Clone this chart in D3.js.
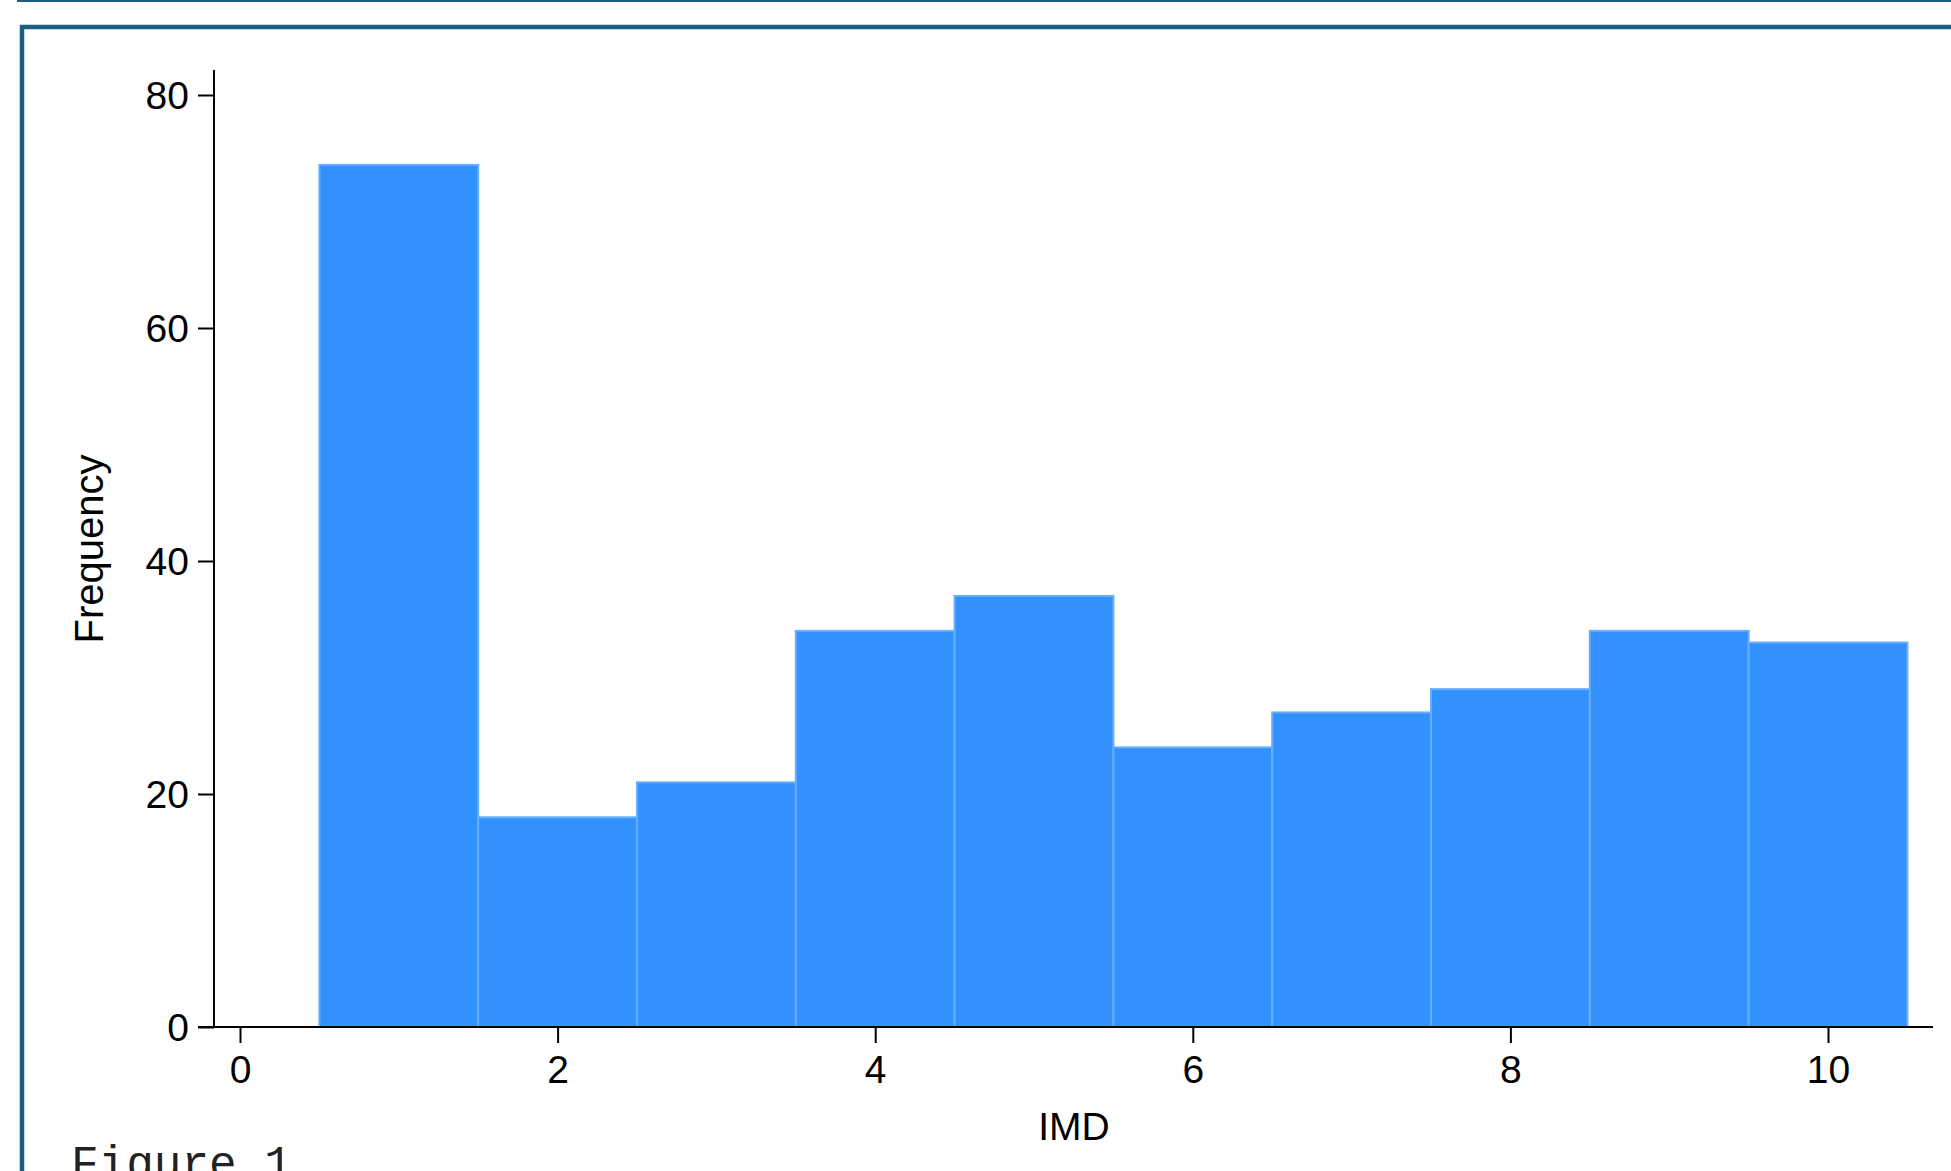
<!DOCTYPE html>
<html><head><meta charset="utf-8">
<script src="https://cdn.jsdelivr.net/npm/d3@7"></script>
<style>html,body{margin:0;padding:0;background:#fff;overflow:hidden}</style>
</head><body>
<script>
const binCenters = [1,2,3,4,5,6,7,8,9,10];
const frequencies = [74,18,21,34,37,24,27,29,34,33];
const xTicks = [0,2,4,6,8,10];
const yTicks = [0,20,40,60,80];
const xLabel = "IMD";
const yLabel = "Frequency";
const caption = "Figure 1";

const W = 1951, H = 1171;
const svg = d3.select("body").append("svg").attr("width", W).attr("height", H);
const frameColor = "#1b5e82";
svg.append("rect").attr("x",17).attr("y",0).attr("width",W).attr("height",2).attr("fill",frameColor);
svg.append("rect").attr("x",22).attr("y",27).attr("width",W+20).attr("height",H+20)
  .attr("fill","none").attr("stroke",frameColor).attr("stroke-width",4.5);

const x = d3.scaleLinear().domain([0,10]).range([240,1828]);
const y = d3.scaleLinear().domain([0,80]).range([1027,95]);
const font = "'Liberation Sans', Arial, Helvetica, sans-serif";

svg.append("g").selectAll("rect").data(binCenters).join("rect")
  .attr("x", d => x(d-0.5)).attr("width", d => x(d+0.5)-x(d-0.5))
  .attr("y", (d,i) => y(frequencies[i])).attr("height", (d,i) => y(0)-y(frequencies[i]))
  .attr("fill","#3391ff").attr("stroke","#66acff").attr("stroke-width",2);

// y axis
const yAxis = svg.append("g").attr("transform","translate(214,0)")
  .call(d3.axisLeft(y).tickValues(yTicks).tickSize(16).tickPadding(9));
yAxis.select(".domain").remove();
svg.append("line").attr("x1",214).attr("x2",214).attr("y1",70).attr("y2",1027).attr("stroke","#000").attr("stroke-width",2);
yAxis.selectAll("line").attr("stroke-width",2);
yAxis.selectAll("text").attr("font-family",font).attr("font-size",39).attr("fill","#000").attr("dy","0.34em");

// x axis
const xAxis = svg.append("g").attr("transform","translate(0,1027)")
  .call(d3.axisBottom(x).tickValues(xTicks).tickSize(16).tickPadding(12));
xAxis.select(".domain").remove();
svg.append("line").attr("x1",198).attr("x2",1933).attr("y1",1027).attr("y2",1027).attr("stroke","#000").attr("stroke-width",2);
xAxis.selectAll("line").attr("stroke-width",2);
xAxis.selectAll("text").attr("font-family",font).attr("font-size",39).attr("fill","#000");

svg.append("text").attr("x",1074).attr("y",1140).attr("text-anchor","middle")
  .attr("font-family",font).attr("font-size",39).text(xLabel);
svg.append("text").attr("transform","translate(103,549) rotate(-90)").attr("text-anchor","middle")
  .attr("font-family",font).attr("font-size",40).text(yLabel);

svg.append("text").attr("x",71).attr("y",1178).attr("font-family","'Liberation Mono', 'Courier New', monospace")
  .attr("font-size",46).attr("fill","#222").text(caption);
</script>
</body></html>
